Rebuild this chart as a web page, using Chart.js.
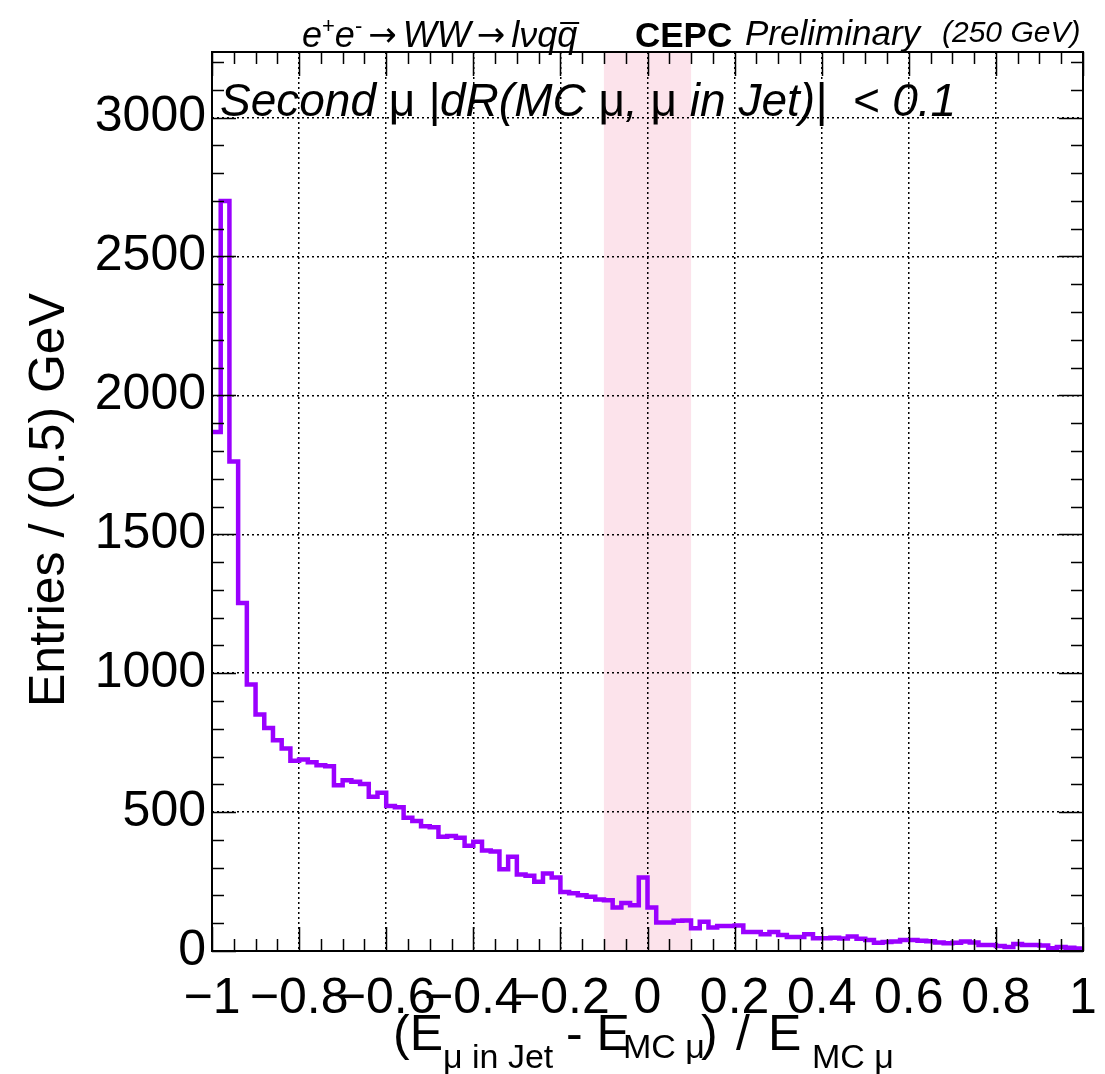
<!DOCTYPE html>
<html>
<head>
<meta charset="utf-8">
<script src="https://cdn.jsdelivr.net/npm/chart.js@4.4.1/dist/chart.umd.min.js"></script>
<style>
  body { margin: 0; background: #fff; }
  #wrap { width: 1105px; height: 1074px; }
</style>
</head>
<body>
<div id="wrap"><canvas id="histo" width="1105" height="1074"></canvas></div>
<script>
// histogram: 100 bins of 0.02 from -1 to 1
const binLow = -1;
const binWidth = 0.02;
const entries = [
    1868, 2700, 1762, 1253, 959, 851, 803, 759, 729, 685,
    689, 679, 669, 665, 597, 615, 609, 601, 555, 570,
    522, 517, 480, 468, 449, 445, 411, 414, 408, 379,
    393, 362, 358, 294, 339, 275, 271, 249, 279, 265,
    212, 208, 201, 195, 185, 183, 157, 173, 165, 265,
    157, 103, 103, 109, 110, 82, 105, 85, 90, 90,
    92, 68, 68, 60, 68, 58, 50, 50, 60, 46,
    46, 48, 45, 52, 44, 40, 30, 32, 34, 40,
    40, 37, 35, 31, 28, 30, 34, 31, 22, 22,
    18, 14, 25, 22, 22, 20, 10, 14, 12, 9
];
const bandRange = [-0.1, 0.1];
const yMax = 3236;
const xTicks = [-1, -0.8, -0.6, -0.4, -0.2, 0, 0.2, 0.4, 0.6, 0.8, 1];
const yTicks = [0, 500, 1000, 1500, 2000, 2500, 3000];

const FONT = "'Liberation Sans', Arial, Helvetica, sans-serif";

// step points at the left edge of each bin, plus the closing edge
const points = entries.map((v, i) => ({ x: binLow + i * binWidth, y: v }));
points.push({ x: binLow + entries.length * binWidth, y: entries[entries.length - 1] });

function fmtX(v) {
    const r = Math.round(v * 10) / 10;
    if (r === 0) return "0";
    return (r < 0 ? "\u2212" : "") + Math.abs(r);
}

const rootStyle = {
    id: "rootStyle",
    beforeDraw(chart) {
        const { ctx, chartArea: a, scales: { x } } = chart;
        ctx.save();
        ctx.fillStyle = "rgba(250, 200, 215, 0.5)";
        const x0 = x.getPixelForValue(bandRange[0]);
        const x1 = x.getPixelForValue(bandRange[1]);
        ctx.fillRect(x0, a.top, x1 - x0, a.bottom - a.top);
        ctx.restore();
    },
    afterDraw(chart) {
        const { ctx, chartArea: a, scales: { x, y } } = chart;
        ctx.save();
        ctx.strokeStyle = "#000";
        ctx.lineWidth = 1.5;
        ctx.beginPath();
        // ticks inside the frame, both sides
        for (let v = 0; v <= yMax; v += 100) {
            const py = Math.round(y.getPixelForValue(v)) + 0.5;
            const len = v % 500 === 0 ? 24 : 12;
            ctx.moveTo(a.left, py); ctx.lineTo(a.left + len, py);
            ctx.moveTo(a.right, py); ctx.lineTo(a.right - len, py);
        }
        for (let k = 0; k <= 40; k++) {
            const v = -1 + k * 0.05;
            const px = Math.round(x.getPixelForValue(v)) + 0.5;
            const len = k % 4 === 0 ? 24 : 12;
            ctx.moveTo(px, a.bottom); ctx.lineTo(px, a.bottom - len);
            ctx.moveTo(px, a.top); ctx.lineTo(px, a.top + len);
        }
        ctx.stroke();
        ctx.lineWidth = 2;
        ctx.strokeRect(a.left, a.top, a.right - a.left, a.bottom - a.top);

        ctx.fillStyle = "#000";
        ctx.textBaseline = "alphabetic";

        // header line
        let cx = 302;
        const put = (t, font, dy, gap) => {
            ctx.font = font;
            cx += gap || 0;
            ctx.fillText(t, cx, 47 + (dy || 0));
            cx += ctx.measureText(t).width + (gap || 0);
        };
        const it = "italic 36px " + FONT;
        const arrow = "34px 'DejaVu Sans', " + FONT;
        put("e", it);
        put("+", "22px " + FONT, -14);
        put("e", it);
        put("-", "22px " + FONT, -14);
        put("\u2192", arrow, -1, 6);
        put("WW", it);
        put("\u2192", arrow, -1, 6);
        put("l\u03BDq", it);
        const qx = cx;
        put("q", it);
        ctx.lineWidth = 2;
        ctx.beginPath();
        ctx.moveTo(qx + 3, 23); ctx.lineTo(cx + 2, 23);
        ctx.stroke();

        ctx.font = "bold 35px " + FONT;
        ctx.fillText("CEPC", 635, 47);
        ctx.font = "italic 35px " + FONT;
        ctx.fillText("Preliminary", 745, 45);
        ctx.font = "italic 30px " + FONT;
        ctx.fillText("(250 GeV)", 942, 42);

        // selection text inside the frame
        cx = 220;
        const put2 = (t, italic) => {
            ctx.font = (italic ? "italic " : "") + "46px " + FONT;
            ctx.fillText(t, cx, 116);
            cx += ctx.measureText(t).width;
        };
        put2("Second ", true);
        put2("\u03BC", false);
        put2(" |dR(MC ", true);
        put2("\u03BC", false);
        put2(", ", true);
        put2("\u03BC", false);
        put2(" in Jet)|  < 0.1", true);

        // x title with subscripts
        const put3 = (t, size, px, base) => {
            ctx.font = size + "px " + FONT;
            ctx.fillText(t, px, base);
        };
        put3("(E", 50, 393, 1050);
        put3("\u03BC in Jet", 34, 443, 1068);
        put3("- E", 50, 566, 1050);
        put3("MC \u03BC", 34, 623, 1058);
        put3(")", 50, 701, 1050);
        put3("/", 50, 736, 1050);
        put3("E", 50, 768, 1050);
        put3("MC \u03BC", 34, 812, 1068);

        // y title
        ctx.translate(64, 500);
        ctx.rotate(-Math.PI / 2);
        ctx.textAlign = "center";
        ctx.font = "50px " + FONT;
        ctx.fillText("Entries / (0.5) GeV", 0, 0);
        ctx.restore();
    }
};

new Chart(document.getElementById("histo"), {
    type: "line",
    data: {
        datasets: [{
            data: points,
            stepped: true,
            borderColor: "#9a00ff",
            borderWidth: 4.5,
            pointRadius: 0,
            fill: false,
            clip: 4
        }]
    },
    options: {
        responsive: false,
        animation: false,
        devicePixelRatio: 1,
        layout: { padding: { left: 0, top: 52, right: 22, bottom: 0 } },
        plugins: { legend: { display: false }, tooltip: { enabled: false } },
        scales: {
            x: {
                type: "linear",
                min: -1,
                max: 1,
                afterFit(s) {
                    s.height = 123;
                    s.paddingLeft = 0;
                    s.paddingRight = 0;
                },
                afterBuildTicks(s) { s.ticks = xTicks.map(v => ({ value: v })); },
                border: { display: false, dash: [2, 3] },
                grid: { color: "#000", lineWidth: 1.5, drawTicks: false },
                ticks: {
                    autoSkip: false,
                    maxRotation: 0,
                    minRotation: 0,
                    padding: 18,
                    color: "#000",
                    font: { family: FONT, size: 50 },
                    callback: fmtX
                }
            },
            y: {
                min: 0,
                max: yMax,
                afterFit(s) {
                    s.width = 212;
                    s.paddingTop = 0;
                    s.paddingBottom = 0;
                },
                afterBuildTicks(s) { s.ticks = yTicks.map(v => ({ value: v })); },
                border: { display: false, dash: [2, 3] },
                grid: { color: "#000", lineWidth: 1.5, drawTicks: false },
                ticks: {
                    autoSkip: false,
                    padding: 6,
                    color: "#000",
                    font: { family: FONT, size: 50 },
                    callback: v => String(v)
                }
            }
        }
    },
    plugins: [rootStyle]
});
</script>
</body>
</html>
